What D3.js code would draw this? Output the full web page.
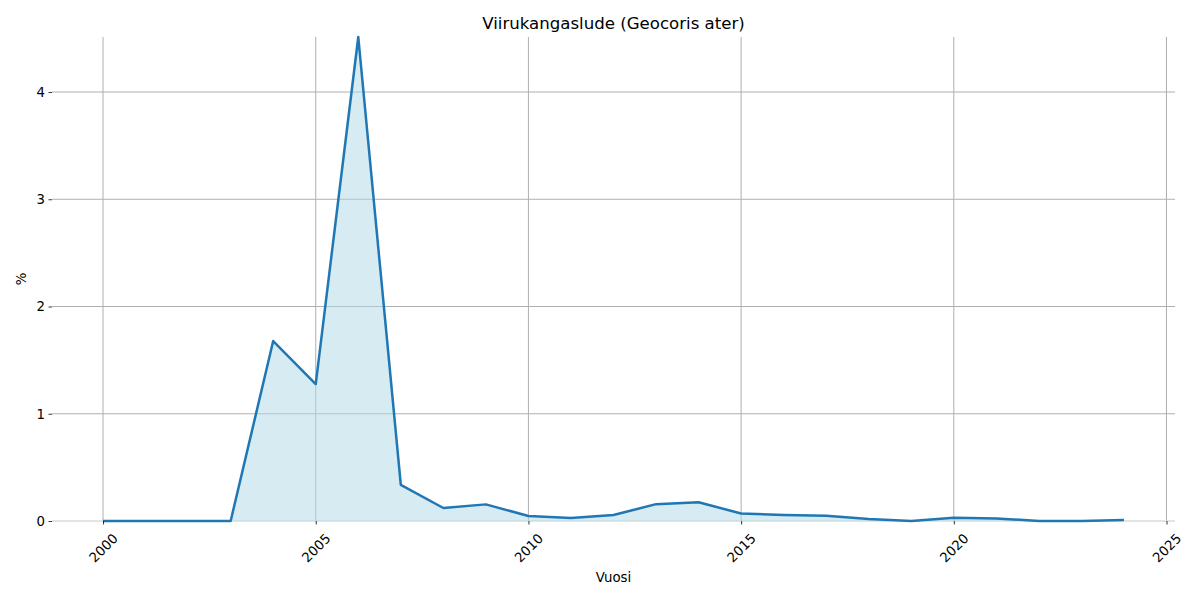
<!DOCTYPE html>
<html>
<head>
<meta charset="utf-8">
<script src="https://cdn.jsdelivr.net/npm/d3@7"></script>
<style>
  body { margin: 0; background: #fff; }
  text { font-family: "DejaVu Sans", sans-serif; }
</style>
</head>
<body>
<div id="chart"></div>
<script>
// Data
var years = [2000, 2001, 2002, 2003, 2004, 2005, 2006, 2007, 2008, 2009, 2010, 2011,
             2012, 2013, 2014, 2015, 2016, 2017, 2018, 2019, 2020, 2021, 2022, 2023, 2024];
var percent = [0, 0, 0, 0, 1.678, 1.277, 4.513, 0.336, 0.121, 0.155, 0.047, 0.028,
               0.056, 0.157, 0.175, 0.07, 0.056, 0.048, 0.019, 0, 0.03, 0.024, 0, 0, 0.009];
var xTicks = [2000, 2005, 2010, 2015, 2020, 2025];
var yTicks = [0, 1, 2, 3, 4];

var title = "Viirukangaslude (Geocoris ater)";
var xLabel = "Vuosi";
var yLabel = "%";

var svgWidth = 1200;
var svgHeight = 600;

var margin = { top: 37, right: 25, bottom: 79, left: 52 };
var width = svgWidth - margin.left - margin.right;
var height = svgHeight - margin.top - margin.bottom;

var data = years.map(function(y, i) { return { year: y, value: percent[i] }; });

var svg = d3.select("#chart")
  .append("svg")
  .attr("width", svgWidth)
  .attr("height", svgHeight);

var chartGroup = svg.append("g")
  .attr("transform", `translate(${margin.left}, ${margin.top})`);

// Scales (matplotlib-style 5% x margin, y from 0 to max)
var pad = (d3.max(years) - d3.min(years)) * 0.05;
var xScale = d3.scaleLinear()
  .domain([d3.min(years) - pad, d3.max(years) + pad])
  .range([0, width]);

var yScale = d3.scaleLinear()
  .domain([0, d3.max(percent)])
  .range([height, 0]);

// Grid
chartGroup.append("g")
  .selectAll("line")
  .data(xTicks)
  .enter()
  .append("line")
  .attr("x1", d => xScale(d))
  .attr("x2", d => xScale(d))
  .attr("y1", 0)
  .attr("y2", height)
  .attr("stroke", "#b0b0b0")
  .attr("stroke-width", 1);

chartGroup.append("g")
  .selectAll("line")
  .data(yTicks)
  .enter()
  .append("line")
  .attr("x1", 0)
  .attr("x2", width)
  .attr("y1", d => yScale(d))
  .attr("y2", d => yScale(d))
  .attr("stroke", "#b0b0b0")
  .attr("stroke-width", 1);

// faint baseline
chartGroup.append("line")
  .attr("x1", 0)
  .attr("x2", width)
  .attr("y1", height)
  .attr("y2", height)
  .attr("stroke", "#f0f0f0")
  .attr("stroke-width", 1);

// Area + line
var area = d3.area()
  .x(d => xScale(d.year))
  .y0(yScale(0))
  .y1(d => yScale(d.value));

var line = d3.line()
  .x(d => xScale(d.year))
  .y(d => yScale(d.value));

chartGroup.append("path")
  .datum(data)
  .attr("d", area)
  .attr("fill", "#add8e6")
  .attr("fill-opacity", 0.5);

chartGroup.append("path")
  .datum(data)
  .attr("d", line)
  .attr("fill", "none")
  .attr("stroke", "#1f77b4")
  .attr("stroke-width", 2.5)
  .attr("stroke-linejoin", "round");

// Axes
var bottomAxis = d3.axisBottom(xScale).tickValues(xTicks).tickSize(3.5).tickPadding(3.5).tickFormat(d3.format("d"));
var leftAxis = d3.axisLeft(yScale).tickValues(yTicks).tickSize(3.5).tickPadding(3.5).tickFormat(d3.format("d"));

var xAxisG = chartGroup.append("g")
  .attr("transform", `translate(0, ${height})`)
  .call(bottomAxis);
xAxisG.select(".domain").remove();
xAxisG.selectAll("line").attr("stroke", "#000").attr("stroke-width", 0.8);
xAxisG.selectAll("text")
  .attr("font-size", "13.3px")
  .attr("font-family", "DejaVu Sans, sans-serif")
  .attr("fill", "#000")
  .attr("text-anchor", "middle")
  .attr("dy", null)
  .attr("dominant-baseline", "central")
  .attr("y", 27)
  .attr("transform", "rotate(-45, 0, 27)");

var yAxisG = chartGroup.append("g")
  .call(leftAxis);
yAxisG.select(".domain").remove();
yAxisG.selectAll("line").attr("stroke", "#000").attr("stroke-width", 0.8);
yAxisG.selectAll("text")
  .attr("font-size", "13.3px")
  .attr("font-family", "DejaVu Sans, sans-serif")
  .attr("fill", "#000");

// Labels
svg.append("text")
  .attr("x", margin.left + width / 2)
  .attr("y", 29)
  .attr("text-anchor", "middle")
  .attr("font-size", "16.6px")
  .text(title);

svg.append("text")
  .attr("x", margin.left + width / 2)
  .attr("y", 582)
  .attr("text-anchor", "middle")
  .attr("font-size", "13.3px")
  .text(xLabel);

svg.append("text")
  .attr("transform", `translate(26, ${margin.top + height / 2}) rotate(-90)`)
  .attr("text-anchor", "middle")
  .attr("font-size", "13.3px")
  .text(yLabel);
</script>
</body>
</html>
